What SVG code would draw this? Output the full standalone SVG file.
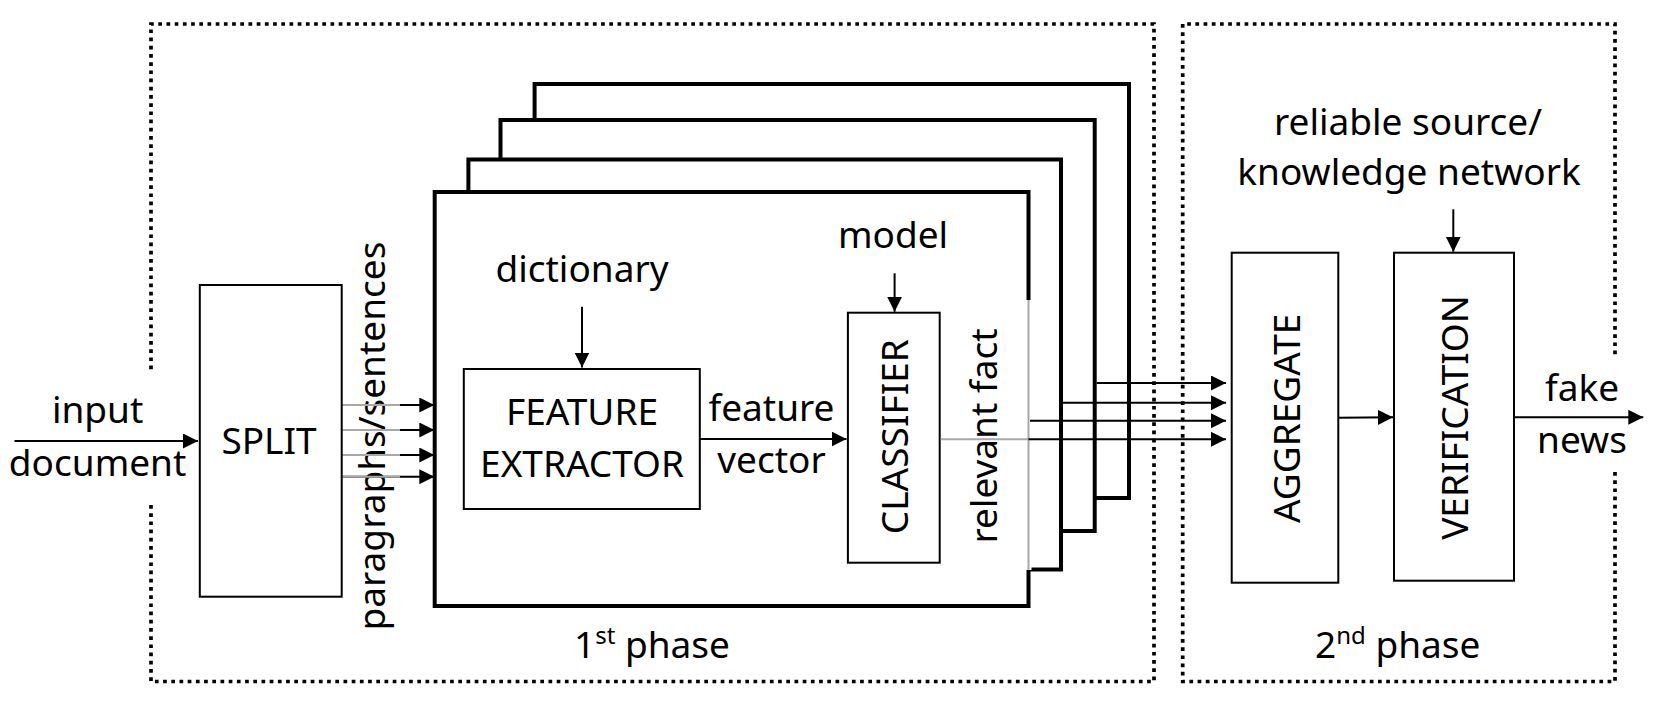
<svg xmlns="http://www.w3.org/2000/svg" width="1656" height="702" viewBox="0 0 1656 702">
<style>
text{font-family:"Noto Sans","Open Sans",sans-serif;font-size:37px;fill:#000}
.mid{text-anchor:middle}
.box{fill:#fff;stroke:#000;stroke-width:2}
.stack{fill:#fff;stroke:#000;stroke-width:4}
.dot{fill:none;stroke:#000;stroke-width:3.7;stroke-dasharray:3.7 4.5}
.ln{stroke:#000;stroke-width:2;fill:none}
.gr{stroke:#a8a8a8;stroke-width:2;fill:none}
</style>
<defs>
<marker id="ah" markerUnits="userSpaceOnUse" markerWidth="16" markerHeight="16" refX="15" refY="7.5" orient="auto"><path d="M0,0 L15,7.5 L0,15 z" fill="#000"/></marker>
</defs>
<g id="phase1-frame">
<path class="dot" d="M151,505 V681.5 H1154 V24 H151 V370"/>
<text x="574" y="658"><tspan>1</tspan><tspan font-size="24" dy="-14">st</tspan><tspan dy="14"> phase</tspan></text>
</g>
<g id="phase2-frame">
<path class="dot" d="M1615,472 V681.5 H1182.7 V24 H1615 V355"/>
<text x="1315" y="658"><tspan>2</tspan><tspan font-size="24" dy="-14">nd</tspan><tspan dy="14"> phase</tspan></text>
</g>
<g id="stack">
<rect class="stack" x="534.6" y="84" width="594.4" height="414"/>
<rect class="stack" x="500.5" y="120" width="594.2" height="411"/>
<rect class="stack" x="468.4" y="159.5" width="592.6" height="410"/>
<rect class="stack" x="434.7" y="192" width="593.8" height="414"/>
<line x1="1028.5" y1="300" x2="1028.5" y2="570" stroke="#fff" stroke-width="6"/>
<line class="gr" x1="1028.5" y1="300" x2="1028.5" y2="570"/>
</g>
<g id="split">
<rect class="box" x="199.8" y="285" width="141.9" height="311.7"/>
<text class="mid" x="269" y="454">SPLIT</text>
</g>
<g id="feature-extractor">
<rect class="box" x="463.8" y="369" width="236" height="140"/>
<text class="mid" x="582" y="425">FEATURE</text>
<text class="mid" x="582" y="476.7">EXTRACTOR</text>
</g>
<g id="classifier">
<rect class="box" x="847.9" y="312.7" width="91.8" height="250"/>
<text class="mid" transform="translate(908.3,436.7) rotate(-90)">CLASSIFIER</text>
</g>
<g id="aggregate">
<rect class="box" x="1231.7" y="252.7" width="106.6" height="330"/>
<text class="mid" transform="translate(1300,418.3) rotate(-90)">AGGREGATE</text>
</g>
<g id="verification">
<rect class="box" x="1394" y="252.7" width="120" height="328"/>
<text class="mid" transform="translate(1468.3,417.5) rotate(-90)">VERIFICATION</text>
</g>
<g id="labels">
<text class="mid" x="97.6" y="423">input</text>
<text class="mid" x="97.6" y="476">document</text>
<text class="mid" transform="translate(384.6,436) rotate(-90)">paragraphs/sentences</text>
<text class="mid" x="582" y="282">dictionary</text>
<text class="mid" x="771.5" y="420.7">feature</text>
<text class="mid" x="771.5" y="472.7">vector</text>
<text class="mid" x="893" y="248.3">model</text>
<text class="mid" transform="translate(997,436) rotate(-90)">relevant fact</text>
<text class="mid" x="1408" y="135">reliable source/</text>
<text class="mid" x="1409" y="185">knowledge network</text>
<text class="mid" x="1582" y="400.7">fake</text>
<text class="mid" x="1582" y="453.3">news</text>
</g>
<g id="connectors">
<line class="ln" x1="14.5" y1="441" x2="198" y2="441" marker-end="url(#ah)"/>
<line class="ln" x1="341.7" y1="405" x2="434.3" y2="405" marker-end="url(#ah)"/>
<line class="ln" x1="341.7" y1="430" x2="434.3" y2="430" marker-end="url(#ah)"/>
<line class="ln" x1="341.7" y1="455" x2="434.3" y2="455" marker-end="url(#ah)"/>
<line class="ln" x1="341.7" y1="476.7" x2="434.3" y2="476.7" marker-end="url(#ah)"/>
<line class="gr" x1="342.7" y1="405" x2="400" y2="405"/>
<line class="gr" x1="342.7" y1="430" x2="400" y2="430"/>
<line class="gr" x1="342.7" y1="455" x2="400" y2="455"/>
<line class="gr" x1="342.7" y1="476.7" x2="400" y2="476.7"/>
<line class="ln" x1="582" y1="306.7" x2="582" y2="367.5" marker-end="url(#ah)"/>
<line class="ln" x1="699.8" y1="439" x2="846.5" y2="439" marker-end="url(#ah)"/>
<line class="ln" x1="894.6" y1="273.3" x2="894.6" y2="311.7" marker-end="url(#ah)"/>
<line class="gr" x1="940.7" y1="439.3" x2="1028.5" y2="439.3"/>
<line class="ln" x1="1028.5" y1="439.3" x2="1226" y2="439.3" marker-end="url(#ah)"/>
<line class="ln" x1="1030" y1="420.7" x2="1226" y2="420.7" marker-end="url(#ah)"/>
<line class="ln" x1="1062" y1="402.7" x2="1226" y2="402.7" marker-end="url(#ah)"/>
<line class="ln" x1="1096.6" y1="383" x2="1226" y2="383" marker-end="url(#ah)"/>
<line class="ln" x1="1453.3" y1="209.3" x2="1453.3" y2="251.7" marker-end="url(#ah)"/>
<line class="ln" x1="1338.3" y1="417.7" x2="1393" y2="417.3" marker-end="url(#ah)"/>
<line class="ln" x1="1514" y1="417.3" x2="1643.3" y2="417.3" marker-end="url(#ah)"/>
</g>
</svg>
